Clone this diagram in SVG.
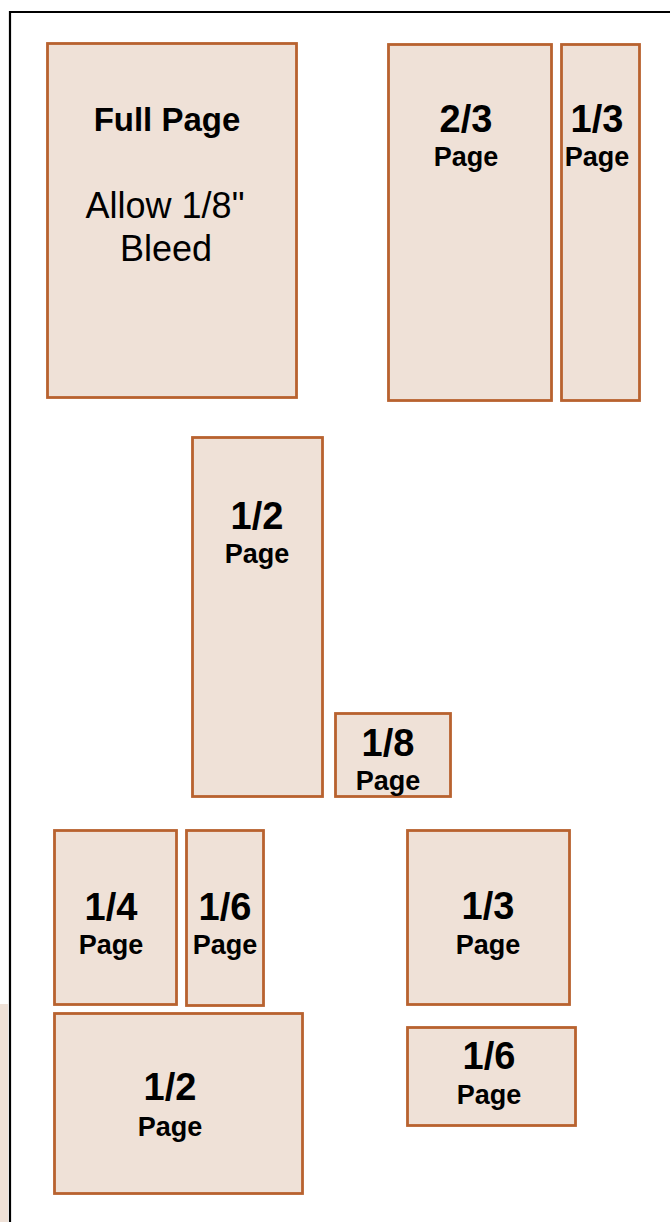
<svg xmlns="http://www.w3.org/2000/svg" width="670" height="1222" viewBox="0 0 670 1222">
<style>
.box{fill:#efe1d7;stroke:#b8622f;stroke-width:2.8}
text{font-family:"Liberation Sans",Arial,sans-serif;fill:#000;text-anchor:middle}
.fr{font-weight:bold;font-size:38px}
.pg{font-weight:bold;font-size:27px}
.big{font-weight:bold;font-size:33px}
.reg{font-size:36px}
</style>
<rect x="0" y="0" width="670" height="1222" fill="#fff"/>
<rect x="0" y="1004" width="8" height="218" fill="#efe1d7"/>
<path d="M10 1222 V12 H670" fill="none" stroke="#000" stroke-width="2.2"/>
<g id="full-page">
<rect class="box" x="47.5" y="43.5" width="249" height="354"/>
<text class="big" x="167" y="131">Full Page</text>
<text class="reg" x="165" y="218">Allow 1/8"</text>
<text class="reg" x="166" y="261">Bleed</text>
</g>
<g id="two-thirds">
<rect class="box" x="388.5" y="44.5" width="163" height="356"/>
<text class="fr" x="466" y="132">2/3</text>
<text class="pg" x="466" y="166">Page</text>
</g>
<g id="one-third-tall">
<rect class="box" x="561.5" y="44.5" width="78" height="356"/>
<text class="fr" x="597" y="132">1/3</text>
<text class="pg" x="597" y="166">Page</text>
</g>
<g id="half-tall">
<rect class="box" x="192.5" y="437.5" width="130" height="359"/>
<text class="fr" x="257" y="529">1/2</text>
<text class="pg" x="257" y="563">Page</text>
</g>
<g id="eighth">
<rect class="box" x="335.5" y="713.5" width="115" height="83"/>
<text class="fr" x="388" y="756">1/8</text>
<text class="pg" x="388" y="790">Page</text>
</g>
<g id="quarter">
<rect class="box" x="54.5" y="830.5" width="122" height="174"/>
<text class="fr" x="111" y="920">1/4</text>
<text class="pg" x="111" y="954">Page</text>
</g>
<g id="sixth-tall">
<rect class="box" x="186.5" y="830.5" width="77" height="175"/>
<text class="fr" x="225" y="920">1/6</text>
<text class="pg" x="225" y="954">Page</text>
</g>
<g id="half-wide">
<rect class="box" x="54.5" y="1013.5" width="248" height="180"/>
<text class="fr" x="170" y="1100">1/2</text>
<text class="pg" x="170" y="1136">Page</text>
</g>
<g id="one-third-square">
<rect class="box" x="407.5" y="830.5" width="162" height="174"/>
<text class="fr" x="488" y="919">1/3</text>
<text class="pg" x="488" y="954">Page</text>
</g>
<g id="sixth-wide">
<rect class="box" x="407.5" y="1027.5" width="168" height="98"/>
<text class="fr" x="489" y="1069">1/6</text>
<text class="pg" x="489" y="1104">Page</text>
</g>
<g id="connectors"></g>
</svg>
